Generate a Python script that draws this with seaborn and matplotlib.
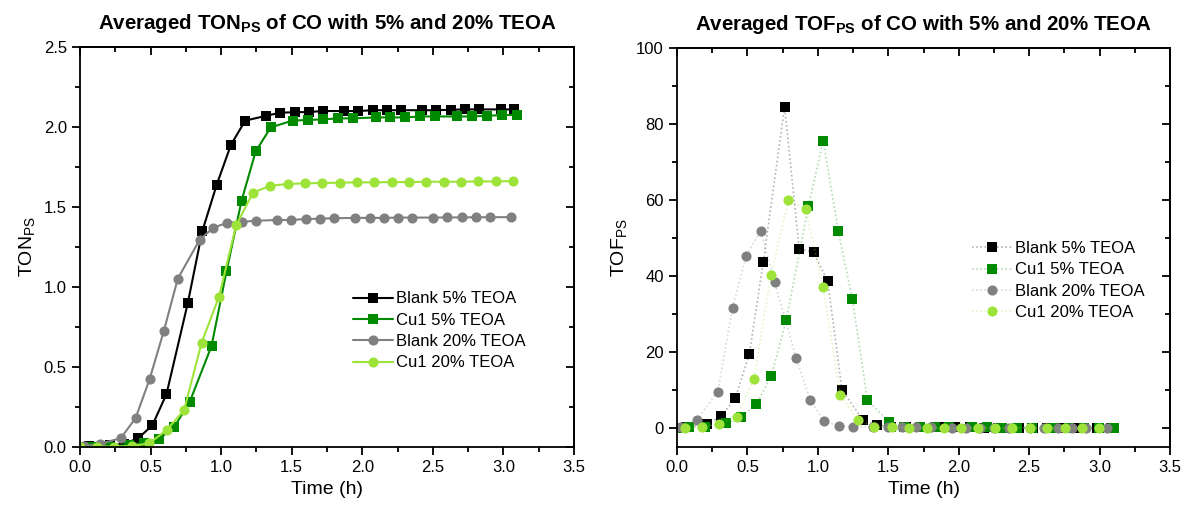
import matplotlib
matplotlib.use("Agg")
import matplotlib.pyplot as plt
from matplotlib.colors import to_rgba
from matplotlib.ticker import MultipleLocator, NullFormatter
import pandas as pd
import seaborn as sns

# ---------------- data ----------------
SERIES = ["Blank 5% TEOA", "Cu1 5% TEOA", "Blank 20% TEOA", "Cu1 20% TEOA"]

# Blank, 5% TEOA
t_b5 = [0.065, 0.215, 0.314, 0.414, 0.513, 0.613, 0.764, 0.867, 0.969, 1.070,
        1.171, 1.319, 1.420, 1.522, 1.625, 1.724, 1.873, 1.972, 2.079, 2.178,
        2.277, 2.426, 2.525, 2.629, 2.729, 2.830, 2.980, 3.078]
ton_b5 = [0.005, 0.010, 0.020, 0.056, 0.136, 0.331, 0.900, 1.350, 1.640, 1.890,
          2.040, 2.070, 2.090, 2.092, 2.094, 2.100, 2.100, 2.100, 2.105, 2.105,
          2.105, 2.105, 2.105, 2.108, 2.110, 2.110, 2.110, 2.110]
tof_b5 = [0.3, 1.05, 3.2, 7.9, 19.4, 43.8, 84.6, 47.2, 46.2, 38.6,
          10.0, 2.2, 0.8, 0.4, 0.3, 0.3, 0.2, 0.2, 0.2, 0.1,
          0.1, 0.1, 0.1, 0.1, 0.1, 0.1, 0.05, 0.05]

# Cu1, 5% TEOA
t_c5 = [0.000, 0.085, 0.199, 0.350, 0.456, 0.563, 0.669, 0.776, 0.932, 1.038,
        1.145, 1.245, 1.352, 1.507, 1.615, 1.722, 1.830, 1.933, 2.097, 2.199,
        2.305, 2.412, 2.518, 2.674, 2.780, 2.886, 2.993, 3.099]
ton_c5 = [0.000, 0.002, 0.005, 0.012, 0.027, 0.052, 0.127, 0.279, 0.631, 1.098,
          1.540, 1.848, 1.998, 2.040, 2.044, 2.048, 2.054, 2.054, 2.060, 2.060,
          2.060, 2.066, 2.066, 2.066, 2.066, 2.070, 2.075, 2.075]
tof_c5 = [0.0, 0.2, 0.4, 1.2, 2.8, 6.3, 13.7, 28.4, 58.3, 75.6,
          51.8, 33.9, 7.3, 1.6, 0.35, 0.3, 0.25, 0.2, 0.2, 0.15,
          0.1, 0.1, 0.1, 0.1, 0.1, 0.1, 0.1, 0.1]

# Blank, 20% TEOA
t_b20 = [0.030, 0.140, 0.290, 0.394, 0.493, 0.594, 0.693, 0.847, 0.945, 1.045,
         1.147, 1.246, 1.394, 1.495, 1.600, 1.700, 1.800, 1.951, 2.053, 2.152,
         2.254, 2.355, 2.504, 2.603, 2.705, 2.804, 2.906, 3.055]
ton_b20 = [0.005, 0.019, 0.056, 0.181, 0.423, 0.725, 1.052, 1.294, 1.371, 1.402,
           1.408, 1.414, 1.419, 1.419, 1.425, 1.427, 1.430, 1.432, 1.432, 1.432,
           1.434, 1.434, 1.434, 1.435, 1.435, 1.436, 1.436, 1.437]
tof_b20 = [0.35, 2.1, 9.6, 31.7, 45.4, 51.9, 38.3, 18.3, 7.4, 1.8,
           0.6, 0.35, 0.3, 0.25, 0.2, 0.2, 0.15, 0.1, 0.1, 0.1,
           0.1, 0.1, 0.1, 0.1, 0.05, 0.05, 0.05, 0.05]

# Cu1, 20% TEOA (TOF evaluated between consecutive TON samples)
t_c20 = [0.000, 0.123, 0.243, 0.366, 0.491, 0.614, 0.737, 0.862, 0.985, 1.106,
         1.226, 1.349, 1.472, 1.595, 1.717, 1.840, 1.963, 2.086, 2.209, 2.332,
         2.454, 2.578, 2.700, 2.823, 2.946, 3.069]
ton_c20 = [0.000, 0.002, 0.003, 0.006, 0.023, 0.106, 0.229, 0.652, 0.940, 1.385,
           1.590, 1.633, 1.644, 1.648, 1.650, 1.652, 1.654, 1.654, 1.656, 1.656,
           1.658, 1.658, 1.658, 1.660, 1.660, 1.662]
t_c20_tof = [0.057, 0.180, 0.300, 0.424, 0.547, 0.667, 0.791, 0.913, 1.036, 1.159,
             1.282, 1.402, 1.527, 1.650, 1.773, 1.895, 2.018, 2.140, 2.258, 2.381,
             2.504, 2.627, 2.753, 2.878, 2.996]
tof_c20 = [0.0, 0.35, 1.05, 3.0, 13.0, 40.4, 60.0, 57.7, 37.2, 8.8,
           2.1, 0.35, 0.15, 0.1, 0.1, 0.05, 0.05, 0.05, 0.05, 0.05,
           0.05, 0.05, 0.05, 0.05, 0.05]

COLORS = {"Blank 5% TEOA": "#000000", "Cu1 5% TEOA": "#008a00",
          "Blank 20% TEOA": "#808080", "Cu1 20% TEOA": "#9ee33a"}
MARKERS = {"Blank 5% TEOA": "s", "Cu1 5% TEOA": "s",
           "Blank 20% TEOA": "o", "Cu1 20% TEOA": "o"}


def long_frame(pairs):
    frames = []
    for name, (t, v) in zip(SERIES, pairs):
        frames.append(pd.DataFrame({"time": t, "value": v, "series": name}))
    return pd.concat(frames, ignore_index=True)


df_ton = long_frame([(t_b5, ton_b5), (t_c5, ton_c5), (t_b20, ton_b20), (t_c20, ton_c20)])
df_tof = long_frame([(t_b5, tof_b5), (t_c5, tof_c5), (t_b20, tof_b20), (t_c20_tof, tof_c20)])

# ---------------- style ----------------
sns.set_style("ticks")
plt.rcParams.update({
    "font.family": ["Liberation Sans", "DejaVu Sans"],
    "mathtext.fontset": "custom",
    "mathtext.rm": "Liberation Sans",
    "mathtext.it": "Liberation Sans:italic",
    "mathtext.bf": "Liberation Sans:bold",
    "axes.linewidth": 1.3,
    "axes.edgecolor": "black",
    "axes.labelcolor": "black",
    "text.color": "black",
    "xtick.color": "black",
    "ytick.color": "black",
})

fig = plt.figure(figsize=(11.83, 5.11), dpi=100)
ax1 = fig.add_axes([0.0676, 0.1252, 0.4176, 0.7828])
ax2 = fig.add_axes([0.5723, 0.1252, 0.4167, 0.7808])


def frame_axes(ax, xmaj, xmin, ymaj, ymin):
    ax.xaxis.set_major_locator(MultipleLocator(xmaj))
    ax.xaxis.set_minor_locator(MultipleLocator(xmin))
    ax.yaxis.set_major_locator(MultipleLocator(ymaj))
    ax.yaxis.set_minor_locator(MultipleLocator(ymin))
    ax.tick_params(which="major", direction="out", length=6, width=1.3, labelsize=12)
    ax.tick_params(which="minor", direction="out", length=3.5, width=1.3)
    for s in ax.spines.values():
        s.set_visible(True)
        s.set_linewidth(1.3)
    top = ax.secondary_xaxis("top")
    top.xaxis.set_major_locator(MultipleLocator(xmaj))
    top.xaxis.set_minor_locator(MultipleLocator(xmin))
    top.xaxis.set_major_formatter(NullFormatter())
    top.tick_params(which="major", direction="in", length=6, width=1.3)
    top.tick_params(which="minor", direction="in", length=3.5, width=1.3)
    right = ax.secondary_yaxis("right")
    right.yaxis.set_major_locator(MultipleLocator(ymaj))
    right.yaxis.set_minor_locator(MultipleLocator(ymin))
    right.yaxis.set_major_formatter(NullFormatter())
    right.tick_params(which="major", direction="in", length=6, width=1.3)
    right.tick_params(which="minor", direction="in", length=3.5, width=1.3)
    for sec in (top, right):
        for s in sec.spines.values():
            s.set_linewidth(1.3)


def restyle(line, line_alpha, ls):
    c = to_rgba(line.get_color(), 1.0)
    line.set_markerfacecolor(c)
    line.set_markeredgecolor(c)
    line.set_markeredgewidth(0)
    line.set_color(to_rgba(c, line_alpha))
    if ls is not None:
        line.set_linestyle(ls)


# ---------------- TON panel ----------------
sns.lineplot(data=df_ton, x="time", y="value", hue="series", style="series",
             hue_order=SERIES, style_order=SERIES, palette=COLORS, markers=MARKERS,
             dashes=False, markersize=7.3, linewidth=1.5, sort=False, estimator=None,
             ax=ax1)
for ln in ax1.lines:
    restyle(ln, 1.0, None)
leg = ax1.get_legend()
handles = list(leg.legend_handles)
labels = [t.get_text() for t in leg.get_texts()]
for h in handles:
    restyle(h, 1.0, None)
    h.set_linewidth(1.5)
    h.set_markersize(7.3)
ax1.legend(handles, labels, frameon=False, loc="upper left",
           bbox_to_anchor=(0.536, 0.41), fontsize=12, handlelength=2.4,
           handletextpad=0.15, labelspacing=0.38, borderpad=0)

ax1.set_xlim(0, 3.5)
ax1.set_ylim(0, 2.5)
frame_axes(ax1, 0.5, 0.25, 0.5, 0.25)
ax1.set_xlabel("Time (h)", fontsize=14)
ax1.set_ylabel(r"TON$_{\mathrm{PS}}$", fontsize=14, labelpad=5)
ax1.set_title(r"Averaged TON$_{\mathbf{PS}}$ of CO with 5% and 20% TEOA",
              fontsize=14.8, fontweight="bold", pad=13)

# ---------------- TOF panel ----------------
sns.lineplot(data=df_tof, x="time", y="value", hue="series", style="series",
             hue_order=SERIES, style_order=SERIES, palette=COLORS, markers=MARKERS,
             dashes=False, markersize=7.3, linewidth=1.2, sort=False, estimator=None,
             ax=ax2)
for ln in ax2.lines:
    restyle(ln, 0.3, (0, (1, 1.5)))
leg = ax2.get_legend()
handles = list(leg.legend_handles)
labels = [t.get_text() for t in leg.get_texts()]
for h in handles:
    restyle(h, 0.3, (0, (1, 1.5)))
    h.set_linewidth(1.2)
    h.set_markersize(7.3)
ax2.legend(handles, labels, frameon=False, loc="upper left",
           bbox_to_anchor=(0.582, 0.537), fontsize=12, handlelength=2.4,
           handletextpad=0.15, labelspacing=0.38, borderpad=0)

ax2.set_xlim(0, 3.5)
ax2.set_ylim(-5, 100)
frame_axes(ax2, 0.5, 0.25, 20, 10)
ax2.set_xlabel("Time (h)", fontsize=14)
ax2.set_ylabel(r"TOF$_{\mathrm{PS}}$", fontsize=14, labelpad=5)
ax2.set_title(r"Averaged TOF$_{\mathbf{PS}}$ of CO with 5% and 20% TEOA",
              fontsize=14.8, fontweight="bold", pad=13)

fig.savefig("out.png", dpi=100)
